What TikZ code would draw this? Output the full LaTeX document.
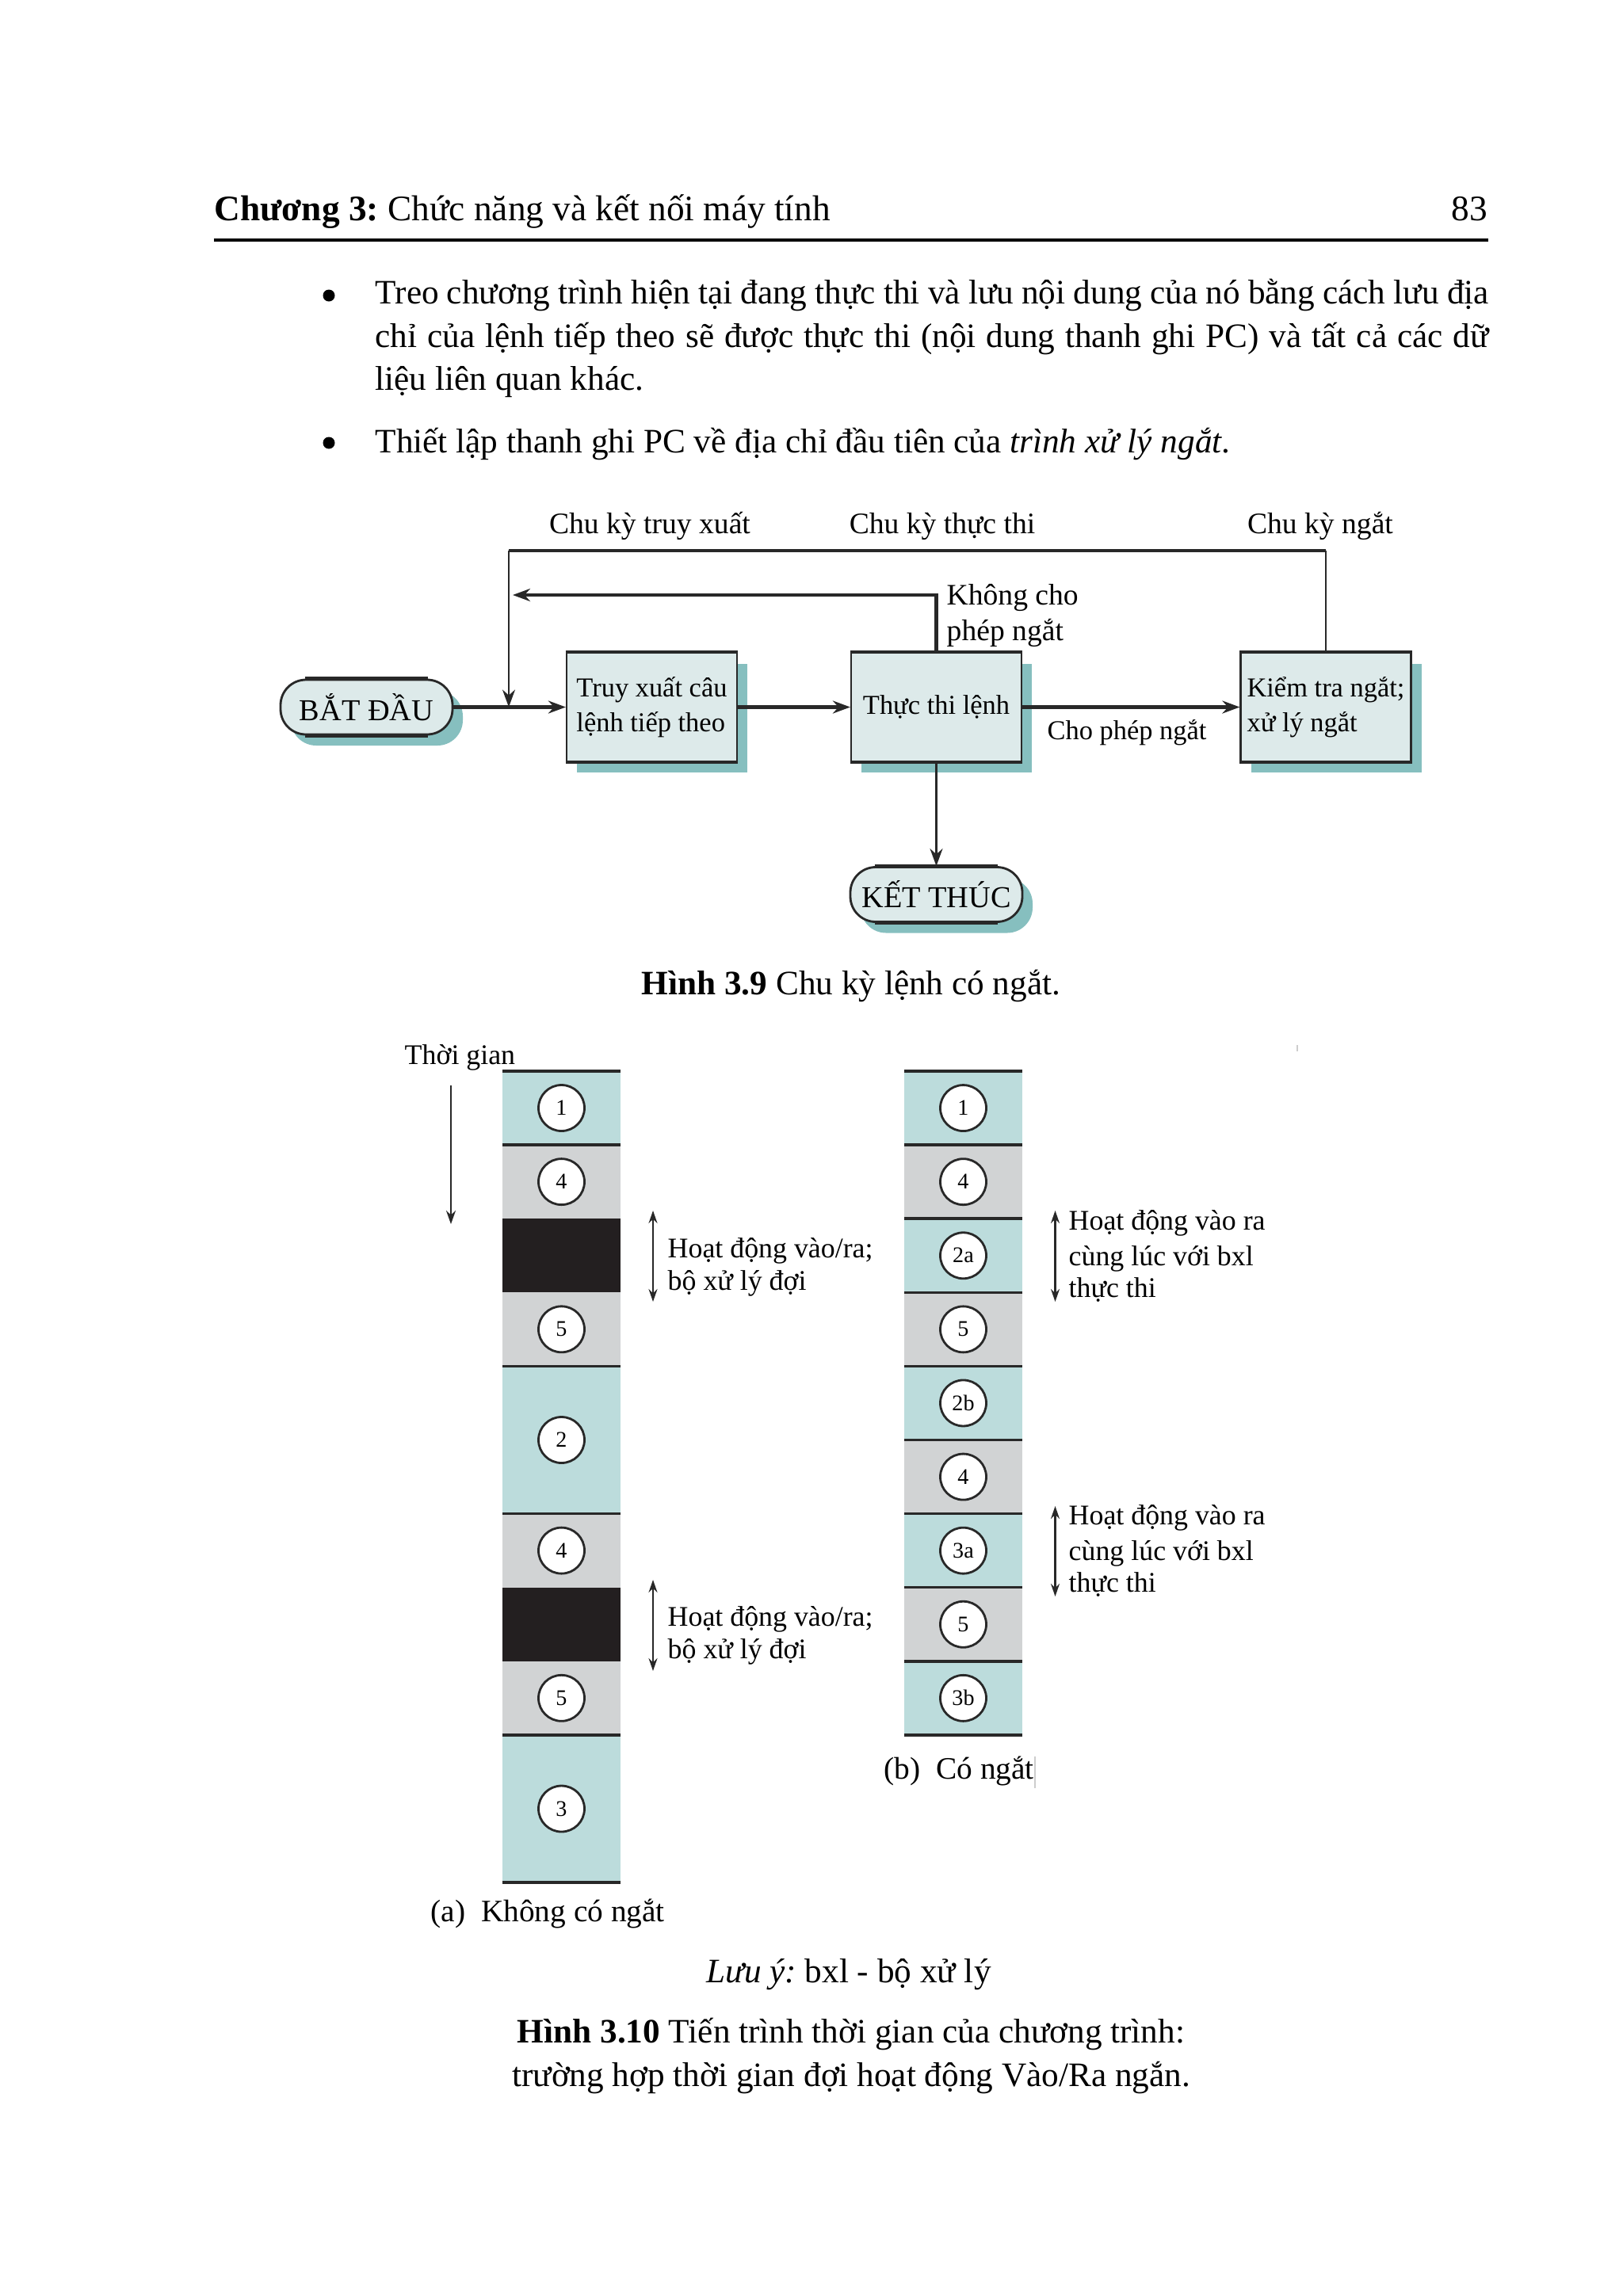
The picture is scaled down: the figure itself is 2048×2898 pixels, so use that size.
\documentclass[tikz,border=0pt]{standalone}
\usepackage{fontspec}
\setmainfont{Liberation Serif}
\usetikzlibrary{arrows.meta,shadows}
\frenchspacing
\definecolor{segblue}{RGB}{188,220,220}
\definecolor{seggray}{RGB}{209,211,212}
\definecolor{segblack}{RGB}{35,31,32}
\definecolor{boxfill}{RGB}{221,234,234}
\definecolor{boxshadow}{RGB}{134,191,191}
\definecolor{linecol}{RGB}{40,40,40}
\definecolor{faint}{RGB}{205,205,205}
\tikzset{
  bodytext/.style={font=\fontsize{12.3}{15}\selectfont, inner sep=0pt},
  headtext/.style={font=\fontsize{12.9}{15}\selectfont, inner sep=0pt},
  cyclab/.style={font=\fontsize{10.7}{12.2}\selectfont, inner sep=0pt},
  tllab/.style={font=\fontsize{10.2}{12}\selectfont, inner sep=0pt, anchor=base west},
  sublab/.style={font=\fontsize{11.2}{13}\selectfont, inner sep=0pt},
  shadowed/.style={drop shadow={shadow xshift=1.3mm, shadow yshift=-1.4mm, fill=boxshadow, opacity=1}},
  procbox/.style={shadowed, draw=linecol, line width=0.6pt, fill=boxfill,
    minimum width=21.5mm, minimum height=13.7mm, align=left, inner sep=0pt,
    font=\fontsize{9.8}{12.5}\selectfont},
  termbox/.style={shadowed, draw=linecol, line width=0.8pt, fill=boxfill, rounded corners=3.2mm,
    minimum width=21.7mm, minimum height=6.9mm, inner sep=0pt,
    font=\fontsize{10.9}{12}\selectfont},
  edgeline/.style={draw=linecol, line width=1.3pt},
  thickline/.style={draw=linecol, line width=1.2pt},
  thinline/.style={draw=linecol, line width=0.7pt},
  arr/.style={-{Stealth[length=2.2mm,width=1.6mm]}},
  sepline/.style={draw=linecol, line width=1pt},
  numcirc/.style={circle, draw=linecol, line width=0.8pt, fill=white, minimum size=5.8mm,
    inner sep=0pt, font=\fontsize{8}{9}\selectfont},
  darr/.style={draw=linecol, line width=0.6pt,
    {Stealth[length=1.6mm,width=1.1mm]}-{Stealth[length=1.6mm,width=1.1mm]}},
  tarr/.style={draw=linecol, line width=0.6pt, -{Stealth[length=1.7mm,width=1.2mm]}}
}
\begin{document}
\begin{tikzpicture}[x=0.1mm,y=-0.1mm]
\useasboundingbox[fill=white] (0,0) rectangle (2048,2898);

% ---------- header ----------
\node[headtext,anchor=base west] (hdr) at (270,278) {\textbf{Chương 3:} Chức năng và kết nối máy tính};
\node[headtext,anchor=base east] (pg) at (1878,278) {83};
\coordinate (ruleL) at (270,303);
\coordinate (ruleR) at (1878,303);
\draw[line width=1.1pt] (ruleL) -- (ruleR);

% ---------- bullets ----------
\fill (415,373) circle (0.75mm);
\node[bodytext,anchor=base west] (t1) at (473,383) {\makebox[140.5mm][s]{Treo chương trình hiện tại đang thực thi và lưu nội dung của nó bằng cách lưu địa}};
\node[bodytext,anchor=base west] (t2) at (473,438) {\makebox[140.5mm][s]{chỉ của lệnh tiếp theo sẽ được thực thi (nội dung thanh ghi PC) và tất cả các dữ}};
\node[bodytext,anchor=base west] (t3) at (473,492) {liệu liên quan khác.};
\fill (415,559) circle (0.75mm);
\node[bodytext,anchor=base west] (t4) at (473,571) {Thiết lập thanh ghi PC về địa chỉ đầu tiên của \textit{trình xử lý ngắt}.};

% ---------- figure 3.9 ----------
\node[cyclab,anchor=base] (cy1) at (820,673) {Chu kỳ truy xuất};
\node[cyclab,anchor=base] (cy2) at (1189,673) {Chu kỳ thực thi};
\node[cyclab,anchor=base] (cy3) at (1666,673) {Chu kỳ ngắt};

\node[termbox] (bd) at (462.5,892.5) {BẮT ĐẦU};
\node[procbox] (tx) at (822.5,892.5) {Truy xuất câu\\lệnh tiếp theo};
\node[procbox] (tt) at (1181.5,892.5) {Thực thi lệnh};
\node[procbox] (kt) at (1673,892.5) {Kiểm tra ngắt;\\xử lý ngắt};
\node[termbox] (en) at (1181.5,1129) {KẾT THÚC};

\foreach \n in {tx,tt,kt}{
  \draw[edgeline] (\n.north west) -- (\n.north east);
  \draw[edgeline] (\n.south west) -- (\n.south east);
}
\foreach \n in {bd,en}{
  \draw[edgeline] ([xshift=3.2mm]\n.north west) -- ([xshift=-3.2mm]\n.north east);
  \draw[edgeline] ([xshift=3.2mm]\n.south west) -- ([xshift=-3.2mm]\n.south east);
}

\coordinate (tl) at (642,695);
\coordinate (ret) at (647,751);
\draw[thinline] (kt.north) -- (kt.north |- tl);
\draw[thickline] (kt.north |- tl) -- (tl);
\draw[thinline,arr] (tl) -- (tl |- bd.east);
\draw[thickline,arr] (tt.north) |- (ret);
\draw[thickline,arr] (bd.east) -- (tx.west);
\draw[thickline,arr] (tx.east) -- (tt.west);
\draw[thickline,arr] (tt.east) -- (kt.west);
\draw[thinline,arr] (tt.south) -- (en.north);

\node[cyclab,anchor=base west] (kc1) at (1194,763) {Không cho};
\node[cyclab,anchor=base west] (kc2) at (1194,808) {phép ngắt};
\node[cyclab,anchor=base,font=\fontsize{9.8}{12}\selectfont] (cp) at (1422,933) {Cho phép ngắt};

\node[bodytext,anchor=base] (cap39) at (1074,1255) {\textbf{Hình 3.9} Chu kỳ lệnh có ngắt.};

% ---------- figure 3.10 ----------
\node[tllab] (tg) at (510,1343) {Thời gian};
\coordinate (ta) at (569,1370);
\coordinate (tb) at (569,1545);
\draw[tarr] (ta) -- (tb);

% left column
\fill[segblue]  (634,1352)   rectangle (783,1445.1);
\fill[seggray]  (634,1445.1) rectangle (783,1538.2);
\fill[segblack] (634,1538.2) rectangle (783,1631.3);
\fill[seggray]  (634,1631.3) rectangle (783,1724.4);
\fill[segblue]  (634,1724.4) rectangle (783,1910.6);
\fill[seggray]  (634,1910.6) rectangle (783,2003.7);
\fill[segblack] (634,2003.7) rectangle (783,2096.8);
\fill[seggray]  (634,2096.8) rectangle (783,2189.9);
\fill[segblue]  (634,2189.9) rectangle (783,2376.1);
\foreach \yy in {1352,1445.1,1724.4,1910.6,2189.9,2376.1}{
  \draw[sepline] (634,\yy) -- (783,\yy);
}
\node[numcirc] (la1) at (708.5,1398.5) {1};
\node[numcirc] (la2) at (708.5,1491.6) {4};
\node[numcirc] (la3) at (708.5,1677.8) {5};
\node[numcirc] (la4) at (708.5,1817.5) {2};
\node[numcirc] (la5) at (708.5,1957.1) {4};
\node[numcirc] (la6) at (708.5,2143.3) {5};
\node[numcirc] (la7) at (708.5,2283) {3};

\coordinate (lda) at (824,1528);
\coordinate (ldb) at (824,1643);
\draw[darr] (lda) -- (ldb);
\node[tllab] (lt1) at (842,1587) {Hoạt động vào/ra;};
\node[tllab] (lt2) at (842,1628) {bộ xử lý đợi};
\coordinate (ldc) at (824,1994);
\coordinate (ldd) at (824,2109);
\draw[darr] (ldc) -- (ldd);
\node[tllab] (lt3) at (842,2052.5) {Hoạt động vào/ra;};
\node[tllab] (lt4) at (842,2093.5) {bộ xử lý đợi};

\node[sublab,anchor=base west] (capa) at (543,2425) {(a)\hspace{0.5em}Không có ngắt};

% right column
\foreach \lab/\col [count=\i from 0] in {1/segblue,4/seggray,2a/segblue,5/seggray,2b/segblue,4/seggray,3a/segblue,5/seggray,3b/segblue}{
  \pgfmathsetmacro\ytop{1352+93.1*\i}
  \pgfmathsetmacro\ybot{1352+93.1*(\i+1)}
  \pgfmathsetmacro\ymid{1352+93.1*(\i+0.5)}
  \fill[\col] (1141,\ytop) rectangle (1290,\ybot);
  \node[numcirc] (rc\i) at (1215.5,\ymid) {\lab};
}
\foreach \k in {0,...,9}{
  \pgfmathsetmacro\yy{1352+93.1*\k}
  \draw[sepline] (1141,\yy) -- (1290,\yy);
}

\coordinate (rda) at (1331.5,1528);
\coordinate (rdb) at (1331.5,1643);
\draw[darr] (rda) -- (rdb);
\node[tllab] (rt1) at (1348,1552) {Hoạt động vào ra};
\node[tllab] (rt2) at (1348,1597) {cùng lúc với bxl};
\node[tllab] (rt3) at (1348,1637) {thực thi};
\coordinate (rdc) at (1331.5,1901);
\coordinate (rdd) at (1331.5,2015);
\draw[darr] (rdc) -- (rdd);
\node[tllab] (rt4) at (1348,1924.4) {Hoạt động vào ra};
\node[tllab] (rt5) at (1348,1969.4) {cùng lúc với bxl};
\node[tllab] (rt6) at (1348,2009.4) {thực thi};

\node[sublab,anchor=base west] (capb) at (1115,2245) {(b)\hspace{0.5em}Có ngắt};

% tiny marks
\draw[faint,line width=0.4pt] (1637,1319) -- (1637,1327);
\draw[faint,line width=0.4pt] (1306,2217) -- (1306,2257);

% captions
\node[bodytext,anchor=base] (note) at (1071,2502) {\textit{Lưu ý:} bxl - bộ xử lý};
\node[bodytext,anchor=base] (cap1) at (1074,2578) {\textbf{Hình 3.10} Tiến trình thời gian của chương trình:};
\node[bodytext,anchor=base] (cap2) at (1074,2633) {trường hợp thời gian đợi hoạt động Vào/Ra ngắn.};
\end{tikzpicture}
\end{document}
